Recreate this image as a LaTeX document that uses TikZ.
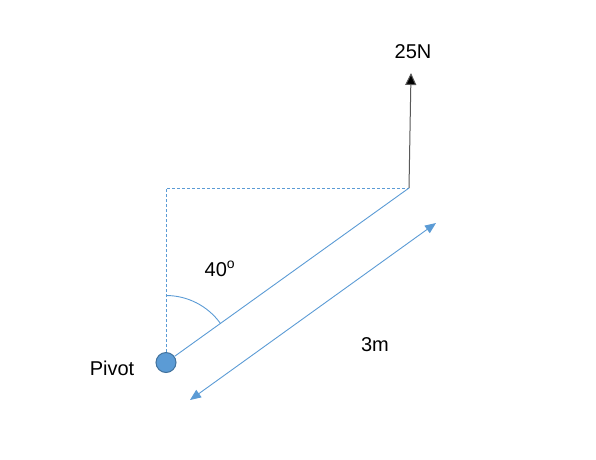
\documentclass[tikz,border=0pt]{standalone}
\usepackage{fontspec}
\setmainfont{Liberation Sans}
\usetikzlibrary{arrows.meta,calc}
\definecolor{lblue}{HTML}{5B9BD5}
\definecolor{dblue}{HTML}{41719C}
\begin{document}
\begin{tikzpicture}[x=1pt,y=-1pt,
  lbl/.style={font=\fontsize{20}{23}\selectfont,inner sep=0pt},
  bline/.style={lblue,line width=0.9pt},
  dline/.style={lblue,line width=0.9pt,dash pattern=on 3pt off 2pt}]
\useasboundingbox (0,0) rectangle (596,459);
\node[circle,fill=lblue,draw=dblue,line width=1pt,minimum size=20pt,inner sep=0pt] (pivot) at (166,362.5) {};
\coordinate (end) at (409,188);
\coordinate (corner) at (166,188);
\coordinate (top) at (411,73);
\draw[dline] (pivot.north) -- (corner) -- (end);
\draw[bline] (pivot) -- (end);
\draw[line width=1pt,black!65,-{Triangle[length=12pt,width=11pt,fill=black]}] (end) -- (top);
\coordinate (d1) at (190,400);
\coordinate (d2) at (436,223);
\draw[bline,{Triangle[length=11pt,width=9pt]}-{Triangle[length=11pt,width=9pt]}] (d1) -- (d2);
\draw[bline] ($(pivot)+(0,-67)$) arc[start angle=-90,end angle=-35.7,radius=67];
\node[lbl] (f) at (413,52) {25N};
\node[lbl] (ang) at (220,269) {40\textsuperscript{o}};
\node[lbl] (len) at (375,345) {3m};
\node[lbl] (pv) at (112,368) {Pivot};
\end{tikzpicture}
\end{document}
